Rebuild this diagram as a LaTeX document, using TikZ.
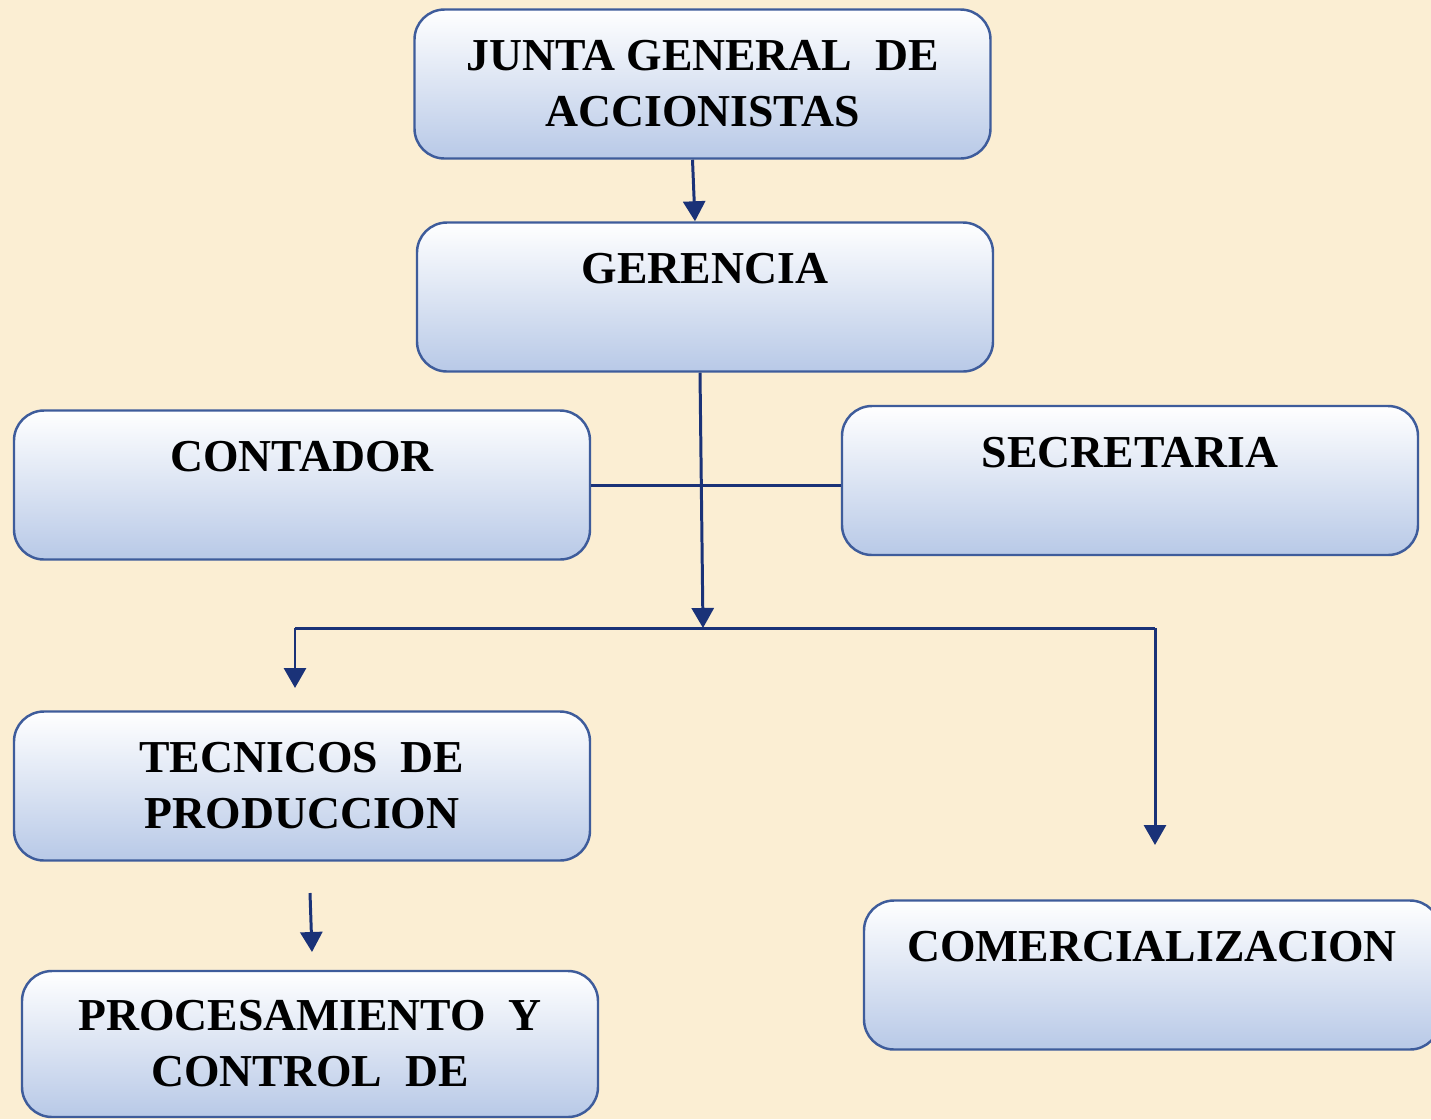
\documentclass[tikz,border=0pt]{standalone}
\usepackage{fontspec}
\setmainfont{Liberation Serif}
\usetikzlibrary{arrows.meta}
\definecolor{fondo}{RGB}{251,238,211}
\definecolor{azul}{RGB}{184,201,231}
\definecolor{borde}{RGB}{62,92,155}
\definecolor{linea}{RGB}{26,50,120}
\begin{document}
\begin{tikzpicture}[>={Triangle[length=2mm,width=2.2mm]}, line join=round,
	caja/.style={draw=borde, line width=0.7pt, rounded corners=3mm, top color=white, bottom color=azul,
		minimum width=5.76cm, minimum height=1.49cm, inner sep=0pt, align=center,
		font=\fontsize{13}{15.9}\selectfont\bfseries},
	flecha/.style={draw=linea, line width=0.85pt}]
	\fill[fondo] (0,0) rectangle (14.31,-11.19);
	\useasboundingbox (0,0) rectangle (14.31,-11.19);
	\path
	(7.025,-0.84) node[caja] (junta) {JUNTA GENERAL~~DE\\ACCIONISTAS}
	(7.05,-2.97) node[caja] (ger) {GERENCIA\\\phantom{G}}
	(3.02,-4.85) node[caja] (cont) {CONTADOR\\\phantom{C}}
	(11.30,-4.805) node[caja] (sec) {SECRETARIA\\\phantom{S}}
	(3.02,-7.86) node[caja] (tec) {TECNICOS~~DE\\PRODUCCION}
	(3.10,-10.44) node[caja, minimum height=1.46cm] (proc) {PROCESAMIENTO~~Y\\CONTROL~~DE}
	(11.52,-9.75) node[caja] (com) {COMERCIALIZACION\\\phantom{C}}
	;
	\path
	(7.03,-6.28) coordinate (rama)
	(2.95,-6.28) coordinate (ramaI)
	(11.55,-6.28) coordinate (ramaD)
	(2.95,-6.88) coordinate (finI)
	(11.55,-8.45) coordinate (finD)
	(3.10,-8.93) coordinate (iniP)
	(3.12,-9.52) coordinate (finP)
	;
	\draw[flecha,->] ([xshift=-1mm]junta.south) -- ([xshift=-1mm]ger.north);
	\draw[flecha,->] ([xshift=-0.5mm]ger.south) -- (rama);
	\draw[flecha] (cont.east) -- (cont.east -| sec.west);
	\draw[flecha] (ramaI) -- (ramaD);
	\draw[flecha,->] (ramaI) -- (finI);
	\draw[flecha,->] (ramaD) -- (finD);
	\draw[flecha,->] (iniP) -- (finP);
\end{tikzpicture}
\end{document}
